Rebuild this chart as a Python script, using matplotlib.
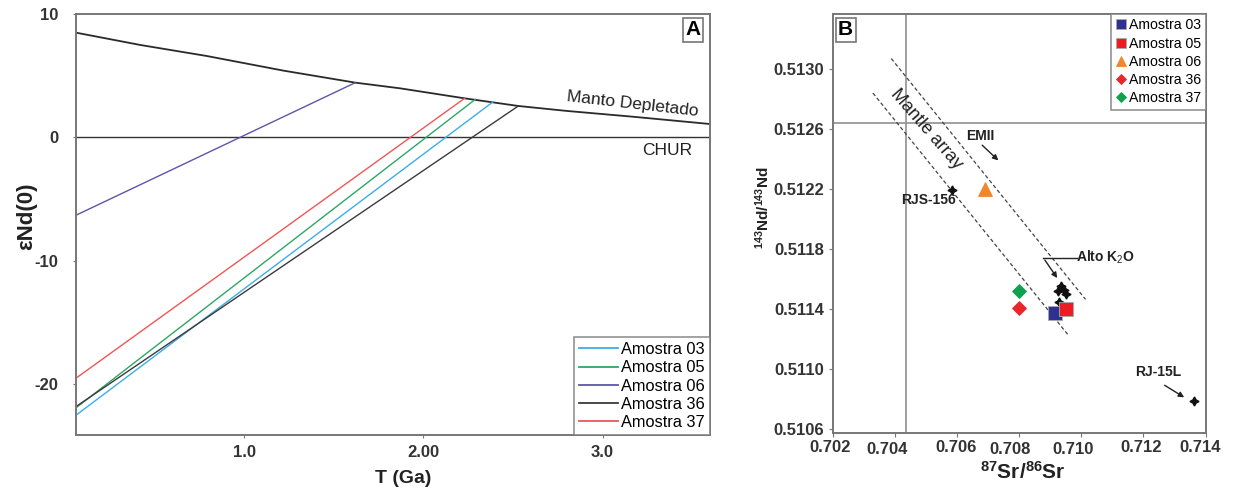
import matplotlib
matplotlib.use("Agg")
import matplotlib.pyplot as plt
from matplotlib.lines import Line2D
from matplotlib.transforms import ScaledTranslation, blended_transform_factory

plt.rcParams["font.family"] = ["Liberation Sans", "DejaVu Sans"]
plt.rcParams["mathtext.fontset"] = "custom"
plt.rcParams["mathtext.rm"] = "Liberation Sans"
plt.rcParams["mathtext.bf"] = "Liberation Sans:bold"

# ---- painel A: evolucao eNd x T ----
dm_t = [0.06, 0.42, 0.79, 1.22, 1.62, 1.87, 2.23, 2.53, 2.80, 3.17, 3.60]
dm_e = [8.49, 7.49, 6.60, 5.41, 4.44, 3.98, 3.17, 2.55, 2.15, 1.68, 1.09]

amostras = ["Amostra 03", "Amostra 05", "Amostra 06", "Amostra 36", "Amostra 37"]
t_ini = [0.06, 0.06, 0.06, 0.06, 0.06]
e_ini = [-22.5, -21.9, -6.3, -21.8, -19.5]
t_fim = [2.39, 2.29, 1.62, 2.53, 2.23]
e_fim = [2.90, 3.09, 4.44, 2.55, 3.17]
cores_a = ["#3aaee6", "#2aa866", "#5b56a8", "#3a3a3a", "#ef5656"]

# ---- painel B: Sr x Nd ----
sr_am = [0.70916, 0.70952, 0.70692, 0.70801, 0.70801]
nd_am = [0.511378, 0.511404, 0.512200, 0.511407, 0.511525]
marc_b = ["s", "s", "^", "D", "D"]
cores_b = ["#2e3192", "#ed1c24", "#f0862e", "#e8262b", "#10a050"]
tam_b = [10, 10, 10, 7, 7]

# outros dados (cruzes)
sr_lit = [0.70584, 0.71362, 0.70936, 0.70927, 0.70950, 0.70930, 0.70946]
nd_lit = [0.512196, 0.510787, 0.511554, 0.511521, 0.511501, 0.511448, 0.511527]

# mantle array (linhas tracejadas)
ma_sup_sr = [0.70389, 0.71014]
ma_sup_nd = [0.513072, 0.511466]
ma_inf_sr = [0.70330, 0.70960]
ma_inf_nd = [0.512842, 0.511224]

sr_ref = 0.70437
nd_ref = 0.512644

sr_ticks = [0.702, 0.704, 0.706, 0.708, 0.710, 0.712, 0.714]
sr_rotulos = ["0.702", "0.704", "0.706", "0.708", "0.710", "0.712", "0.714"]
nd_ticks = [0.5106, 0.5110, 0.5114, 0.5118, 0.5122, 0.5126, 0.5130]
nd_rotulos = ["0.5106", "0.5110", "0.5114", "0.5118", "0.5122", "0.5126", "0.5130"]

fig = plt.figure(figsize=(12.33, 4.88), dpi=100)
cinza = "#777777"
escuro = "#222222"

# ================= A =================
ax = fig.add_axes([0.0616, 0.1086, 0.5142, 0.8627])
ax.plot(dm_t, dm_e, color="#2a2a2a", lw=1.3)
ax.axhline(0, color="#333333", lw=1.0)
for i in range(len(amostras)):
    ax.plot([t_ini[i], t_fim[i]], [e_ini[i], e_fim[i]], color=cores_a[i], lw=1.0)
ax.set_xlim(0.06, 3.6)
ax.set_ylim(-24.1, 10)
ax.set_xticks([1.0, 2.0, 3.0])
ax.set_xticklabels(["1.0", "2.00", "3.0"], fontweight="bold", fontsize=12, color="#333333")
ax.set_yticks([-20, -10, 0, 10])
ax.set_yticklabels(["-20", "-10", "0", "10"], fontweight="bold", fontsize=12, color="#333333")
ax.tick_params(axis="y", direction="out", length=2.5, color=cinza, pad=10)
ax.tick_params(axis="x", direction="out", length=2.5, color=cinza, pad=5)
for s in ax.spines.values():
    s.set_color(cinza)
    s.set_linewidth(1.4)
ax.set_xlabel("T (Ga)", fontsize=14, fontweight="bold", color=escuro)
ax.xaxis.set_label_coords(0.516, -0.083)
ax.set_ylabel("εNd(0)", fontsize=16, fontweight="bold", color=escuro)
ax.yaxis.set_label_coords(-0.062, 0.52)
ax.text(3.17, 2.71, "Manto Depletado", fontsize=12.5, rotation=-6.5, ha="center", va="center", color=escuro)
ax.text(3.36, -1.05, "CHUR", fontsize=12.5, ha="center", va="center", color=escuro)
ax.text(0.985, 0.985, "A", transform=ax.transAxes, fontsize=15, fontweight="bold", ha="right", va="top",
        bbox=dict(boxstyle="square,pad=0.12", fc="white", ec=cinza, lw=1.2))
hand_a = [Line2D([], [], color=c, lw=1.3) for c in cores_a]
leg = ax.legend(hand_a, amostras, loc="lower right", fontsize=11.8, frameon=True, fancybox=False,
                borderaxespad=0, handlelength=2.4, handletextpad=0.2, labelspacing=0.2,
                borderpad=0.3)
leg.get_frame().set_edgecolor(cinza)
leg.get_frame().set_linewidth(1.2)

# ================= B =================
bx = fig.add_axes([0.6752, 0.1133, 0.3025, 0.8580])
bx.axvline(sr_ref, color="#999999", lw=1.3)
bx.axhline(nd_ref, color="#999999", lw=1.3)
bx.plot(ma_sup_sr, ma_sup_nd, ls=(0, (3, 2)), color="#444444", lw=0.9)
bx.plot(ma_inf_sr, ma_inf_nd, ls=(0, (3, 2)), color="#444444", lw=0.9)
bx.plot(sr_lit, nd_lit, ls="none", marker=(4, 1, 0), ms=6.5, color="#111111", mec="#111111")
for i in range(len(amostras)):
    bx.plot(sr_am[i], nd_am[i], ls="none", marker=marc_b[i], ms=tam_b[i], color=cores_b[i],
            mec="#aaaaaa" if marc_b[i] == "s" else cores_b[i], mew=0.6, label=amostras[i])
bx.set_xlim(0.702, 0.714)
bx.set_ylim(0.510577, 0.513369)
bx.set_xticks(sr_ticks)
bx.set_xticklabels([])
bx.set_yticks(nd_ticks)
bx.set_yticklabels(nd_rotulos, fontweight="bold", fontsize=12, color="#333333")
bx.tick_params(direction="out", length=3, color=cinza, pad=3)
for s in bx.spines.values():
    s.set_color(cinza)
    s.set_linewidth(1.4)

# rotulos do eixo x levemente desalinhados, como no original (deslocamento em px)
desloc = [(-2, 0), (-8, -2.5), (-1, 0), (-9, -2.5), (-8, -2.5), (-2, 0), (-5, 0)]
trans_x = blended_transform_factory(bx.transData, bx.transAxes)
for v, txt, (dx, dy) in zip(sr_ticks, sr_rotulos, desloc):
    bx.text(v, -0.017, txt, fontsize=12, fontweight="bold", color="#333333", ha="center", va="top",
            transform=trans_x + ScaledTranslation(dx / 100, dy / 100, fig.dpi_scale_trans), clip_on=False)

bx.set_xlabel(r"$\mathbf{^{87}Sr/^{86}Sr}$", fontsize=15, color=escuro)
bx.xaxis.set_label_coords(0.51, -0.067)
bx.set_ylabel(r"$\mathbf{^{143}Nd/^{143}Nd}$", fontsize=11, color=escuro)
bx.yaxis.set_label_coords(-0.162, 0.538)

bx.text(0.015, 0.985, "B", transform=bx.transAxes, fontsize=15, fontweight="bold", ha="left", va="top",
        bbox=dict(boxstyle="square,pad=0.12", fc="white", ec=cinza, lw=1.2))
bx.text(0.70500, 0.51260, "Mantle array", fontsize=13, rotation=-49, ha="center", va="center", color=escuro)
bx.text(0.70675, 0.512555, "EMII", fontsize=10, fontweight="bold", ha="center", va="center", color=escuro)
bx.annotate("", xy=(0.70740, 0.512380), xytext=(0.70675, 0.512507),
            arrowprops=dict(arrowstyle="-|>", color=escuro, lw=1.0, mutation_scale=8))
bx.text(0.70508, 0.512127, "RJS-156", fontsize=10, fontweight="bold", ha="center", va="center", color=escuro)
bx.text(0.71078, 0.511744, "Alto K$_2$O", fontsize=10, fontweight="bold", ha="center", va="center", color=escuro)
bx.plot([0.70987, 0.70878], [0.511744, 0.511744], color=escuro, lw=1.0)
bx.annotate("", xy=(0.70928, 0.511593), xytext=(0.70878, 0.511744),
            arrowprops=dict(arrowstyle="-|>", color=escuro, lw=1.0, mutation_scale=8))
bx.text(0.71249, 0.510982, "RJ-15L", fontsize=10, fontweight="bold", ha="center", va="center", color=escuro)
bx.annotate("", xy=(0.71339, 0.510803), xytext=(0.71261, 0.510903),
            arrowprops=dict(arrowstyle="-|>", color=escuro, lw=1.0, mutation_scale=8))

legb = bx.legend(loc="upper right", fontsize=10.2, frameon=True, fancybox=False, borderaxespad=0,
                 handlelength=0.8, handletextpad=0.2, labelspacing=0.3, borderpad=0.3, markerscale=0.75)
legb.get_frame().set_edgecolor(cinza)
legb.get_frame().set_linewidth(1.2)

fig.savefig("out.png", dpi=100)
